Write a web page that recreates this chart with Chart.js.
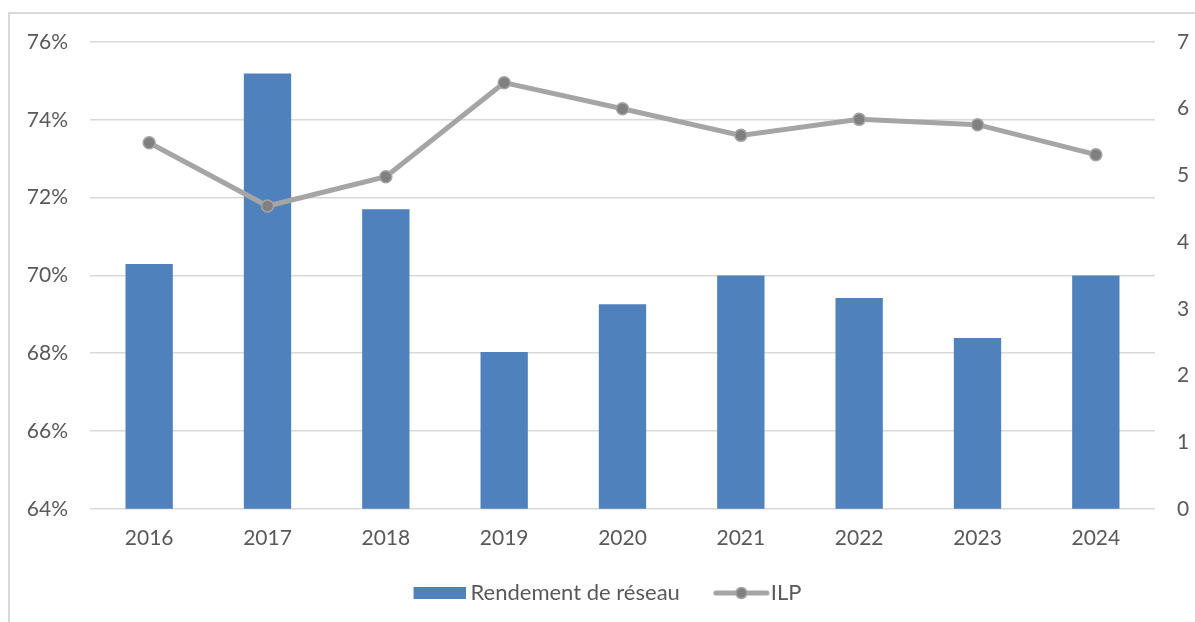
<!DOCTYPE html>
<html>
<head>
<meta charset="utf-8">
<script src="https://cdn.jsdelivr.net/npm/chart.js@4.4.1/dist/chart.umd.min.js"></script>
<style>
  body { margin: 0; background: #fff; }
  #frame {
    position: absolute; left: 8px; top: 12px; width: 1300px; height: 700px;
    border-left: 2px solid #D9D9D9; border-top: 2px solid #D9D9D9;
  }
  #myChart { position: absolute; left: 0; top: 0; }
</style>
</head>
<body>
<div id="frame"></div>
<canvas id="myChart" width="1195" height="622"></canvas>
<script>
// data
const years = ["2016", "2017", "2018", "2019", "2020", "2021", "2022", "2023", "2024"];
const rendement = [70.29, 75.19, 71.7, 68.03, 69.26, 70.0, 69.42, 68.39, 70.0];
const ilp = [5.49, 4.54, 4.98, 6.39, 6.0, 5.6, 5.84, 5.76, 5.31];
const leftTicks = [64, 66, 68, 70, 72, 74, 76];
const rightTicks = [0, 1, 2, 3, 4, 5, 6, 7];

const textColor = "#595959";
const gridColor = "#D9D9D9";
const barColor = "#4F81BD";
const lineColor = "#A5A5A5";
const markerColor = "#808080";
const fontFamily = "Lato, 'Open Sans', sans-serif";
const legendFontSize = 22;
const swatchBox = 66;

// legend swatch: image centred on the legend box, content placed at `start` inside the box
function makeSwatch(start, width, height, draw) {
  const center = swatchBox / 2;
  const ext = Math.max(center - start, start + width - center);
  const c = document.createElement("canvas");
  c.width = Math.ceil(2 * ext); c.height = height;
  const g = c.getContext("2d");
  g.translate(start - (center - ext), 0);
  draw(g);
  return c;
}
function barSwatch() {
  // ends 5px before the text
  const end = swatchBox + legendFontSize / 2 - 5;
  return makeSwatch(end - 52, 52, 12, (g) => {
    g.fillStyle = barColor;
    g.fillRect(0, 0, 52, 12);
  });
}
function lineSwatch() {
  const end = swatchBox + legendFontSize / 2 - 1;
  return makeSwatch(end - 57, 57, 14, (g) => {
    g.strokeStyle = lineColor;
    g.lineWidth = 5;
    g.lineCap = "round";
    g.beginPath(); g.moveTo(3, 7); g.lineTo(54, 7); g.stroke();
    g.fillStyle = markerColor;
    g.lineWidth = 1.5;
    g.beginPath(); g.arc(28.5, 7, 5.5, 0, Math.PI * 2); g.fill(); g.stroke();
  });
}

const ctx = document.getElementById("myChart").getContext("2d");
new Chart(ctx, {
  type: "bar",
  data: {
    labels: years,
    datasets: [
      {
        label: "Rendement de réseau",
        data: rendement,
        backgroundColor: barColor,
        borderWidth: 0,
        barPercentage: 0.8,
        categoryPercentage: 0.5,
        yAxisID: "y",
        order: 2,
      },
      {
        type: "line",
        label: "ILP",
        data: ilp,
        borderColor: lineColor,
        borderWidth: 5,
        pointStyle: "circle",
        pointRadius: 6,
        pointBackgroundColor: markerColor,
        pointBorderColor: lineColor,
        pointBorderWidth: 1.5,
        yAxisID: "y1",
        order: 1,
        tension: 0,
      },
    ],
  },
  options: {
    responsive: false,
    animation: false,
    layout: { padding: { top: 42, bottom: 8 } },
    plugins: {
      legend: {
        position: "bottom",
        labels: {
          usePointStyle: true,
          pointStyleWidth: swatchBox,
          boxHeight: 14,
          padding: 14,
          color: textColor,
          font: { family: fontFamily, size: legendFontSize },
          generateLabels: function (chart) {
            return [
              { text: "Rendement de réseau", pointStyle: barSwatch(), fontColor: textColor, datasetIndex: 0, lineWidth: 0 },
              { text: "ILP", pointStyle: lineSwatch(), fontColor: textColor, datasetIndex: 1, lineWidth: 0 },
            ];
          },
        },
      },
      tooltip: { enabled: false },
    },
    scales: {
      x: {
        grid: { display: false, drawTicks: false },
        border: { display: false },
        ticks: { color: textColor, font: { family: fontFamily, size: 21 }, padding: 17 },
      },
      y: {
        position: "left",
        min: 64,
        max: 76,
        afterBuildTicks: function (axis) {
          axis.ticks = leftTicks.map((v) => ({ value: v }));
        },
        afterFit: function (axis) { axis.width = 90; },
        grid: { color: gridColor, lineWidth: 1.5, drawTicks: false },
        border: { display: false },
        ticks: {
          color: textColor,
          font: { family: fontFamily, size: 21 },
          padding: 22,
          callback: (v) => v + "%",
        },
      },
      y1: {
        position: "right",
        min: 0,
        max: 7,
        afterBuildTicks: function (axis) {
          axis.ticks = rightTicks.map((v) => ({ value: v }));
        },
        afterFit: function (axis) { axis.width = 40; },
        grid: { display: false, drawTicks: false },
        border: { display: false },
        ticks: { color: textColor, font: { family: fontFamily, size: 21 }, padding: 22 },
      },
    },
  },
});
</script>
</body>
</html>
